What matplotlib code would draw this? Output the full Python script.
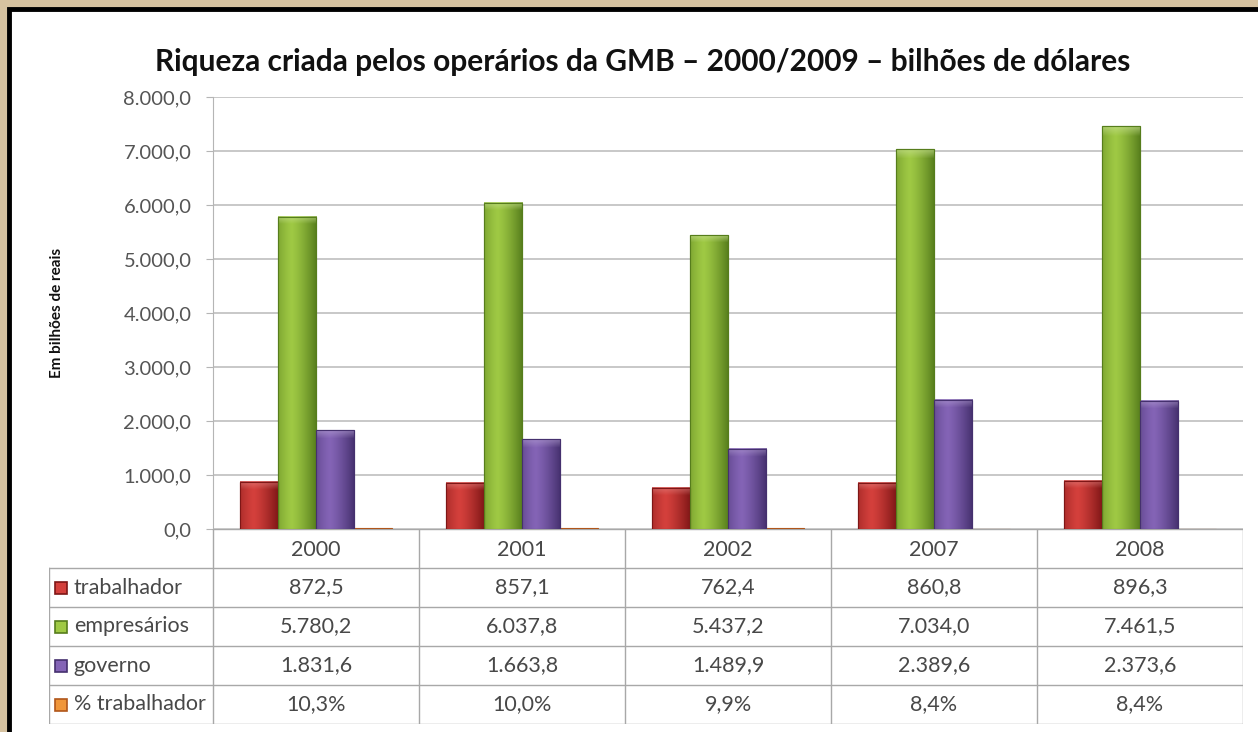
import numpy as np
import matplotlib
matplotlib.use("Agg")
from matplotlib import pyplot as plt
from matplotlib.colors import LinearSegmentedColormap, to_rgb
from matplotlib.patches import Rectangle

plt.rcParams['font.family'] = ['Lato', 'DejaVu Sans']

# data
years = ["2000", "2001", "2002", "2007", "2008"]
series = ["trabalhador", "empresários", "governo", "% trabalhador"]
trabalhador = [872.5, 857.1, 762.4, 860.8, 896.3]
empresarios = [5780.2, 6037.8, 5437.2, 7034.0, 7461.5]
governo = [1831.6, 1663.8, 1489.9, 2389.6, 2373.6]
pct_trabalhador = [10.3, 10.0, 9.9, 8.4, 8.4]
trab_txt = ["872,5", "857,1", "762,4", "860,8", "896,3"]
emp_txt = ["5.780,2", "6.037,8", "5.437,2", "7.034,0", "7.461,5"]
gov_txt = ["1.831,6", "1.663,8", "1.489,9", "2.389,6", "2.373,6"]
pct_txt = ["10,3%", "10,0%", "9,9%", "8,4%", "8,4%"]
yticks = [0, 1000, 2000, 3000, 4000, 5000, 6000, 7000, 8000]
ytick_labels = ["0,0", "1.000,0", "2.000,0", "3.000,0", "4.000,0",
                "5.000,0", "6.000,0", "7.000,0", "8.000,0"]

values = [trabalhador, empresarios, governo, pct_trabalhador]
texts = [trab_txt, emp_txt, gov_txt, pct_txt]
# (dark edge, light centre)
colors = [("#7e1616", "#d4403c"), ("#567d1c", "#9fc944"),
          ("#45306e", "#8464b6"), ("#b0561a", "#f0963a")]

W, H = 1258, 732
fig = plt.figure(figsize=(W / 100, H / 100), dpi=100)
fig.patch.set_facecolor("#d6c2a0")

# white panel with black border
fig.patches.append(Rectangle((9 / W, -0.05), 1.1, 1 - 9 / H + 0.05,
                             transform=fig.transFigure, facecolor="white",
                             edgecolor="black", linewidth=3.5, zorder=-10))

fig.text(643 / W, 1 - 62 / H,
         "Riqueza criada pelos operários da GMB – 2000/2009 – bilhões de dólares",
         ha="center", va="center", fontsize=21.5, fontweight="bold",
         color="#111111")

left, right, top, bottom = 213, 1243, 97, 529
ax = fig.add_axes([left / W, 1 - bottom / H, (right - left) / W, (bottom - top) / H])
ax.patch.set_alpha(0)
ax.set_xlim(-0.5, len(years) - 0.5)
ax.set_ylim(0, 8000)
ax.set_yticks(yticks)
ax.set_yticklabels(ytick_labels, fontsize=14.5, color="#555555")
ax.set_xticks([])
ax.grid(axis="y", color="#c8c8c8", linewidth=1.4)
ax.set_axisbelow(True)
for s in ["top", "right", "bottom"]:
    ax.spines[s].set_visible(False)
ax.spines["left"].set_color("#b5b5b5")
ax.tick_params(axis="y", length=5, color="#b5b5b5", pad=10.5)
ax.set_ylabel("Em bilhões de reais", fontsize=11, fontweight="bold",
              labelpad=43, color="#111111")

bw = 0.185
x = np.arange(len(years))
offsets = [-1.5, -0.5, 0.5, 1.5]
prof = np.abs(np.linspace(-1, 1, 64) + 0.3)
prof = np.clip(prof / prof.max(), 0, 1) ** 1.3
for vals, off, (dark, light) in zip(values, offsets, colors):
    cmap = LinearSegmentedColormap.from_list("g", [light, dark])
    bars = ax.bar(x + off * bw, vals, bw, color=dark, edgecolor=dark,
                  linewidth=0.8, zorder=2)
    for b in bars:
        bx, by, bwid, bh = b.get_x(), b.get_y(), b.get_width(), b.get_height()
        if bh < 100:
            continue
        nrow = 100
        img = np.tile(prof, (nrow, 1))
        rgb = cmap(img)[:, :, :3]
        band = int(nrow * min(150 / bh, 0.3))
        lt = np.array(to_rgb(light))
        for r in range(band):
            a = 0.55 * (1 - r / band)
            rgb[r] = rgb[r] * (1 - a) + (lt * 0.6 + 0.4) * a
        ax.imshow(rgb, extent=(bx, bx + bwid, by, by + bh), aspect="auto",
                  zorder=3, interpolation="bilinear")
        ax.add_patch(Rectangle((bx, by), bwid, bh, fill=False,
                               edgecolor=dark, linewidth=0.8, zorder=4))
ax.set_xlim(-0.5, len(years) - 0.5)
ax.set_ylim(0, 8000)

# data table
tl, tb = 49, 724
lab_w = (left - tl) / (right - left) * len(years)
tax = fig.add_axes([tl / W, 1 - tb / H, (right - tl) / W, (tb - bottom) / H])
tax.set_xlim(-0.5 - lab_w, len(years) - 0.5)
tax.set_ylim(len(series) + 0.5, -0.5)
tax.axis("off")
lc = "#a8a8a8"
for i in range(len(years) + 1):
    tax.plot([i - 0.5, i - 0.5], [-0.5, len(series) + 0.5], color=lc, lw=1)
tax.plot([-0.5 - lab_w, -0.5 - lab_w], [0.5, len(series) + 0.5], color=lc, lw=1)
tax.plot([-0.5, len(years) - 0.5], [-0.5, -0.5], color=lc, lw=1)
for r in range(len(series) + 1):
    tax.plot([-0.5 - lab_w, len(years) - 0.5], [r + 0.5, r + 0.5], color=lc, lw=1)
fs = 15.5
tc = "#484848"
for i, yr in enumerate(years):
    tax.text(i, 0.05, yr, ha="center", va="center", fontsize=fs, color=tc)
for r, (name, txts, (dark, light)) in enumerate(zip(series, texts, colors)):
    row = r + 1
    tax.plot([-0.5 - lab_w + 0.06], [row], marker="s", ms=8, color=light,
             markeredgecolor=dark, markeredgewidth=1.2)
    tax.text(-0.5 - lab_w + 0.12, row, name, ha="left", va="center",
             fontsize=fs, color=tc)
    for i, t in enumerate(txts):
        tax.text(i, row, t, ha="center", va="center", fontsize=fs, color=tc)

fig.savefig("out.png", dpi=100, facecolor=fig.get_facecolor())
